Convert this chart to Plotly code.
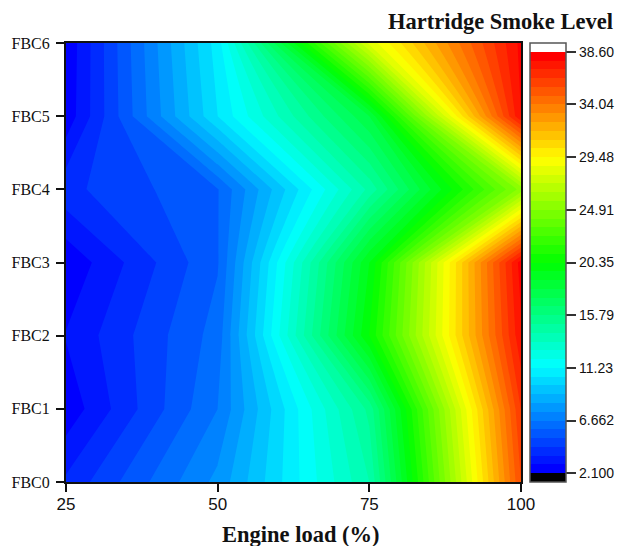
import plotly.graph_objects as go

engine_load = [25, 50, 75, 100]
fbc_positions = [0, 1, 2, 3, 4, 5, 6]
fbc_labels = ["FBC0", "FBC1", "FBC2", "FBC3", "FBC4", "FBC5", "FBC6"]
fbc0 = [3.77, 7.65, 14.27, 35.56]
fbc1 = [2.33, 6.66, 15.26, 36.32]
fbc2 = [2.91, 6.23, 20.35, 37.69]
fbc3 = [2.25, 5.83, 19.59, 38.22]
fbc4 = [4.15, 5.85, 14.49, 25.2]
fbc5 = [2.33, 10.46, 18.07, 37.84]
fbc6 = [2.23, 10.84, 28.18, 38.07]
smoke = [fbc0, fbc1, fbc2, fbc3, fbc4, fbc5, fbc6]

bar_ticks = [2.1, 6.662, 11.23, 15.79, 20.35, 24.91, 29.48, 34.04, 38.6]
bar_labels = ["2.100", "6.662", "11.23", "15.79", "20.35", "24.91", "29.48", "34.04", "38.60"]

LEVEL = 36.5 / 48
LOW, HIGH = 2.1, 38.6
ZMIN, ZMAX = LOW - LEVEL, HIGH + LEVEL


def pos(band):
    # band = index of the colour band counted from the first blue one
    return (band + 1.5) / 49


scale = [
    [0, "#000000"],
    [pos(0) - 0.0005, "#000000"],
    [pos(0), "#0000ff"],
    [pos(47 / 4), "#00ffff"],
    [pos(47 / 2), "#00ff00"],
    [pos(47 * 3 / 4), "#ffff00"],
    [pos(47), "#ff0000"],
    [pos(47) + 0.0005, "#ffffff"],
    [1, "#ffffff"],
]

W, H = 660, 538
L, R, T, B = 58, 513, 35, 474

fig = go.Figure(
    go.Contour(
        x=engine_load,
        y=fbc_positions,
        z=smoke,
        zmin=ZMIN,
        zmax=ZMAX,
        autocontour=False,
        contours=dict(start=ZMIN, end=ZMAX, size=LEVEL, coloring="fill", showlines=False),
        line=dict(width=0, smoothing=0),
        colorscale=scale,
        colorbar=dict(
            x=(522 - L) / (R - L),
            xanchor="left",
            y=0,
            yanchor="bottom",
            len=1,
            lenmode="fraction",
            thickness=36,
            thicknessmode="pixels",
            xpad=0,
            ypad=0,
            outlinecolor="#555555",
            outlinewidth=1.5,
            tickmode="array",
            tickvals=bar_ticks,
            ticktext=bar_labels,
            ticks="outside",
            ticklen=10,
            tickwidth=1.5,
            tickcolor="#333333",
            tickfont=dict(family="Liberation Sans", size=14, color="#111111"),
        ),
    )
)

fig.update_layout(
    width=W,
    height=H,
    autosize=False,
    paper_bgcolor="white",
    plot_bgcolor="white",
    margin=dict(l=L, r=W - R, t=T, b=H - B, pad=0),
    showlegend=False,
    annotations=[
        dict(
            text="<b>Hartridge Smoke Level</b>",
            xref="paper",
            yref="paper",
            x=(606.5 - L) / (R - L),
            y=1 + (T - 13) / (B - T),
            xanchor="right",
            yanchor="middle",
            showarrow=False,
            font=dict(family="Liberation Serif", size=22.5, color="#111111"),
        ),
        dict(
            text="<b>Engine load (%)</b>",
            xref="paper",
            yref="paper",
            x=0.517,
            y=-(526 - B) / (B - T),
            xanchor="center",
            yanchor="middle",
            showarrow=False,
            font=dict(family="Liberation Serif", size=22.5, color="#111111"),
        ),
    ],
    xaxis=dict(
        automargin=False,
        range=[25, 100],
        tickvals=[25, 50, 75, 100],
        ticks="outside",
        ticklen=8,
        tickwidth=1.5,
        tickcolor="#111111",
        showgrid=False,
        zeroline=False,
        showline=True,
        mirror=True,
        linecolor="#111111",
        linewidth=2,
        ticklabelstandoff=-2,
        tickfont=dict(family="Liberation Sans", size=17, color="#111111"),
    ),
    yaxis=dict(
        automargin=False,
        range=[0, 6],
        tickvals=fbc_positions,
        ticktext=fbc_labels,
        ticks="outside",
        ticklen=8,
        tickwidth=1.5,
        tickcolor="#111111",
        showgrid=False,
        zeroline=False,
        showline=True,
        mirror=True,
        linecolor="#111111",
        linewidth=2,
        ticklabelstandoff=3,
        tickfont=dict(family="Liberation Serif", size=16, color="#111111"),
    ),
)

fig.write_html("out.html")
